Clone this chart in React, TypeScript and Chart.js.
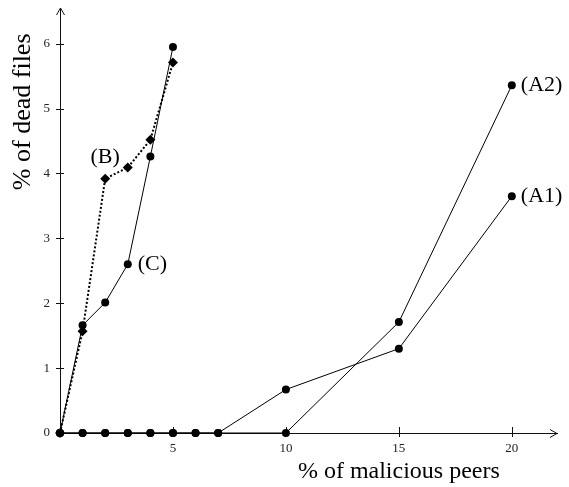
import React, { useEffect, useRef } from 'react';
import { Chart, registerables } from 'chart.js';

Chart.register(...registerables);

// ---- data ----
const peersA = [0, 1, 2, 3, 4, 5, 6, 7, 10, 15, 20];
const deadA1 = [0, 0, 0, 0, 0, 0, 0, 0, 0.67, 1.3, 3.65];
const deadA2 = [0, 0, 0, 0, 0, 0, 0, 0, 0, 1.71, 5.36];
const peersBC = [0, 1, 2, 3, 4, 5];
const deadB = [0, 1.57, 3.92, 4.09, 4.52, 5.71];
const deadC = [0, 1.66, 2.01, 2.6, 4.26, 5.95];

const xTickValues = [5, 10, 15, 20];
const yTickValues = [0, 1, 2, 3, 4, 5, 6];
const xTitle = '% of malicious peers';
const yTitle = '% of dead files';
const seriesNames = ['(A1)', '(A2)', '(B)', '(C)'];

const FONT = '"Liberation Serif", "DejaVu Serif", serif';

const toPoints = (xs: number[], ys: number[]) => xs.map((x, i) => ({ x, y: ys[i] }));

const decorPlugin = {
  id: 'decor',
  beforeDatasetsDraw(chart: any) {
    const ctx = chart.ctx;
    const { left, right, top, bottom } = chart.chartArea;
    const xs = chart.scales.x;
    const ys = chart.scales.y;
    ctx.save();
    ctx.strokeStyle = '#111';
    ctx.lineWidth = 1;
    ctx.beginPath();
    xTickValues.forEach((v) => {
      const px = Math.round(xs.getPixelForValue(v)) + 0.5;
      ctx.moveTo(px, bottom - 6);
      ctx.lineTo(px, bottom + 4);
    });
    yTickValues.forEach((v) => {
      const py = Math.round(ys.getPixelForValue(v)) + 0.5;
      ctx.moveTo(left - 4, py);
      ctx.lineTo(left + 4, py);
    });
    // arrows
    const ax = Math.round(left) + 0.5;
    ctx.moveTo(ax - 4, top + 7);
    ctx.lineTo(ax, top);
    ctx.lineTo(ax + 4, top + 7);
    const ay = Math.round(bottom) + 0.5;
    ctx.moveTo(right - 7, ay - 4);
    ctx.lineTo(right, ay);
    ctx.lineTo(right - 7, ay + 4);
    ctx.stroke();
    ctx.restore();
  },
  afterDatasetsDraw(chart: any) {
    const ctx = chart.ctx;
    const xs = chart.scales.x;
    const ys = chart.scales.y;
    ctx.save();
    ctx.fillStyle = '#000';
    ctx.font = `22px ${FONT}`;
    // series labels
    ctx.textBaseline = 'middle';
    ctx.textAlign = 'left';
    const last = peersA.length - 1;
    ctx.fillText(seriesNames[0], xs.getPixelForValue(peersA[last]) + 9, ys.getPixelForValue(deadA1[last]));
    ctx.fillText(seriesNames[1], xs.getPixelForValue(peersA[last]) + 9, ys.getPixelForValue(deadA2[last]));
    ctx.textAlign = 'center';
    ctx.fillText(seriesNames[2], xs.getPixelForValue(peersBC[2]), ys.getPixelForValue(deadB[2]) - 21);
    ctx.textAlign = 'left';
    ctx.fillText(seriesNames[3], xs.getPixelForValue(peersBC[3]) + 10, ys.getPixelForValue(deadC[3]));
    // axis titles
    ctx.font = `24px ${FONT}`;
    ctx.textAlign = 'center';
    ctx.fillText(xTitle, xs.getPixelForValue(15), 472);
    ctx.font = `26px ${FONT}`;
    ctx.translate(23, ys.getPixelForValue(4.95));
    ctx.rotate(-Math.PI / 2);
    ctx.fillText(yTitle, 0, 0);
    ctx.restore();
  },
};

export default function App() {
  const ref = useRef<HTMLCanvasElement | null>(null);
  useEffect(() => {
    if (!ref.current) return;
    const circle = {
      borderColor: '#000',
      backgroundColor: '#000',
      borderWidth: 1,
      pointRadius: 4,
      pointBorderWidth: 0,
      pointBackgroundColor: '#000',
      pointStyle: 'circle',
      clip: false,
    };
    const zeroPad = (s: any) => {
      s.paddingTop = 0;
      s.paddingBottom = 0;
      s.paddingLeft = 0;
      s.paddingRight = 0;
    };
    const chart = new Chart(ref.current, {
      type: 'line',
      data: {
        datasets: [
          { label: seriesNames[0], data: toPoints(peersA, deadA1), ...circle },
          { label: seriesNames[1], data: toPoints(peersA, deadA2), ...circle },
          {
            label: seriesNames[2],
            data: toPoints(peersBC, deadB),
            borderColor: '#000',
            backgroundColor: '#000',
            borderWidth: 2,
            borderDash: [2, 2],
            pointStyle: 'rectRot',
            pointRadius: 5,
            pointBorderWidth: 0,
            pointBackgroundColor: '#000',
            clip: false,
          },
          { label: seriesNames[3], data: toPoints(peersBC, deadC), ...circle },
        ],
      },
      options: {
        animation: false,
        responsive: true,
        maintainAspectRatio: false,
        events: [],
        layout: { padding: { top: 8, right: 12, left: 0, bottom: 0 } },
        plugins: { legend: { display: false }, tooltip: { enabled: false } },
        scales: {
          x: {
            type: 'linear',
            min: 0,
            max: 22,
            afterFit: (s: any) => {
              s.height = 54;
              zeroPad(s);
            },
            afterBuildTicks: (s: any) => {
              s.ticks = xTickValues.map((v) => ({ value: v }));
            },
            ticks: { padding: 8, color: '#222', font: { family: FONT, size: 13 }, maxRotation: 0 },
            grid: { drawOnChartArea: false, drawTicks: false },
            border: { display: true, color: '#111', width: 1 },
          },
          y: {
            type: 'linear',
            min: 0,
            max: 6.55,
            afterFit: (s: any) => {
              s.width = 60;
              zeroPad(s);
            },
            afterBuildTicks: (s: any) => {
              s.ticks = yTickValues.map((v) => ({ value: v }));
            },
            ticks: { padding: 10, color: '#222', font: { family: FONT, size: 13 } },
            grid: { drawOnChartArea: false, drawTicks: false },
            border: { display: true, color: '#111', width: 1 },
          },
        },
      },
      plugins: [decorPlugin],
    } as any);
    return () => chart.destroy();
  }, []);
  return (
    <div style={{ position: 'fixed', left: 0, top: 0, width: 569, height: 487, background: '#fff' }}>
      <canvas ref={ref} />
    </div>
  );
}
